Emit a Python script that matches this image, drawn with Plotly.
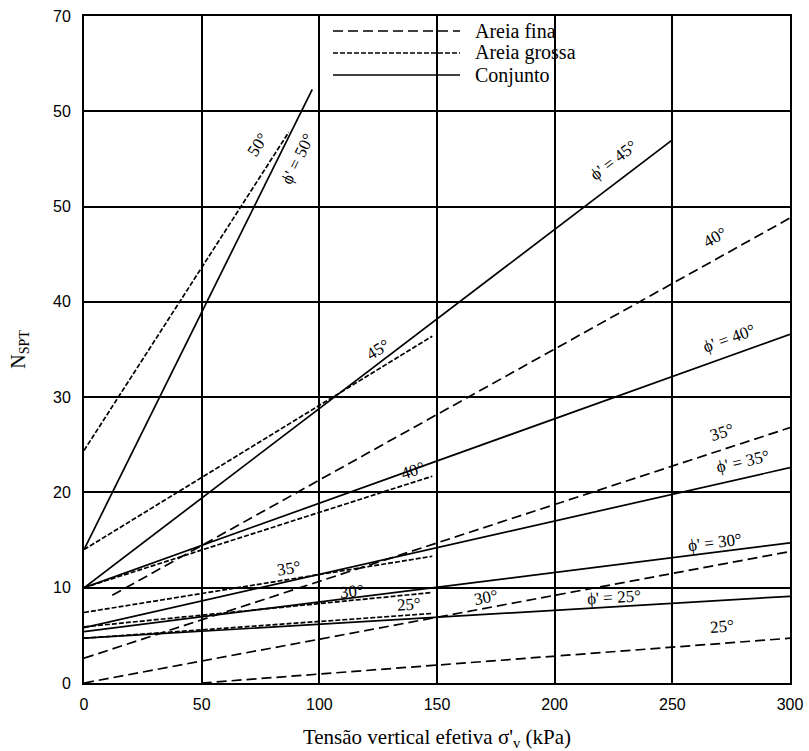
import math
import plotly.graph_objects as go

# ---------------- data ----------------
# Conjunto (solid lines)
conj_phi = [50, 45, 40, 35, 30, 25]
conj_x = [[0, 97], [0, 250], [0, 300], [0, 300], [0, 300], [0, 300]]
conj_y = [[14.0, 62.3], [10.0, 57.0], [10.0, 36.6], [5.8, 22.6], [5.4, 14.7], [4.7, 9.1]]

# Areia fina (dashed lines)
fina_phi = [40, 35, 30, 25]
fina_x = [[12, 300], [0, 300], [0, 300], [50, 300]]
fina_y = [[9.2, 48.8], [2.6, 26.8], [0.0, 13.8], [0.0, 4.7]]

# Areia grossa (fine dashed lines)
grossa_phi = [50, 45, 40, 35, 30, 25]
grossa_x = [[0, 87], [0, 148], [0, 148], [0, 148], [0, 148], [0, 148]]
grossa_y = [[24.4, 57.8], [14.0, 36.4], [10.0, 21.7], [7.4, 13.3], [5.9, 9.5], [4.7, 7.3]]

x_ticks = [0, 50, 100, 150, 200, 250, 300]
y_ticks = [0, 10, 20, 30, 40, 50, 60, 70]
y_ticktext = ["0", "10", "20", "30", "40", "50", "50", "70"]

legend_names = ["Areia fina", "Areia grossa", "Conjunto"]

# ---------------- figure ----------------
W, H = 809, 751
L, R, T, B = 84, 19, 16, 68
pw, ph = W - L - R, H - T - B
sx, sy = pw / 300.0, ph / 70.0

DASH_FINA = "10px,5px"
DASH_GROSSA = "5px,2px"
SERIF = "Liberation Serif, Times New Roman, serif"

fig = go.Figure()


def add_group(xs, ys, phis, dash, name):
    for xx, yy, p in zip(xs, ys, phis):
        fig.add_trace(go.Scatter(
            x=xx, y=yy, mode="lines", name=f"{name} {p}°",
            line=dict(color="black", width=1.7, dash=dash),
            showlegend=False, hoverinfo="skip"))


add_group(conj_x, conj_y, conj_phi, "solid", "Conjunto")
add_group(fina_x, fina_y, fina_phi, DASH_FINA, "Areia fina")
add_group(grossa_x, grossa_y, grossa_phi, DASH_GROSSA, "Areia grossa")


def angle_of(xs, ys):
    dx = (xs[1] - xs[0]) * sx
    dy = (ys[1] - ys[0]) * sy
    return -math.degrees(math.atan2(dy, dx))


# label placements: (text, x, y, series-xs, series-ys)
labels = [
    ("50°", 74, 56.5, grossa_x[0], grossa_y[0]),
    ("ϕ' = 50°", 91, 55.0, conj_x[0], conj_y[0]),
    ("ϕ' = 45°", 225, 54.8, conj_x[1], conj_y[1]),
    ("40°", 268, 46.8, fina_x[0], fina_y[0]),
    ("ϕ' = 40°", 274, 36.2, conj_x[2], conj_y[2]),
    ("35°", 271, 26.3, fina_x[1], fina_y[1]),
    ("ϕ' = 35°", 280, 23.2, conj_x[3], conj_y[3]),
    ("45°", 125, 35.0, grossa_x[1], grossa_y[1]),
    ("40°", 140, 22.3, grossa_x[2], grossa_y[2]),
    ("35°", 87, 12.0, grossa_x[3], grossa_y[3]),
    ("30°", 114, 9.6, grossa_x[4], grossa_y[4]),
    ("25°", 138, 8.2, grossa_x[5], grossa_y[5]),
    ("30°", 171, 9.0, fina_x[2], fina_y[2]),
    ("ϕ' = 25°", 225, 9.0, conj_x[5], conj_y[5]),
    ("ϕ' = 30°", 268, 14.7, conj_x[4], conj_y[4]),
    ("25°", 271, 5.9, fina_x[3], fina_y[3]),
]
for txt, lx, ly, xs, ys in labels:
    fig.add_annotation(x=lx, y=ly, text=txt, showarrow=False,
                       textangle=angle_of(xs, ys),
                       font=dict(family=SERIF, size=17, color="black"))

# legend box (white, covering gridlines), its left edge is the x=100 gridline
fig.add_shape(type="rect", xref="paper", yref="paper",
              x0=(100 * sx + 1.5) / pw, x1=(600 - L) / pw,
              y0=1 - (86 - T) / ph, y1=1.0 - 1.5 / ph,
              fillcolor="white", line=dict(width=0), layer="between")
leg_y = [31, 53, 75]
leg_dash = [DASH_FINA, DASH_GROSSA, "solid"]
for nm, yy, ds in zip(legend_names, leg_y, leg_dash):
    yp = 1 - (yy - T) / ph
    fig.add_shape(type="line", xref="paper", yref="paper",
                  x0=(333 - L) / pw, x1=(460 - L) / pw, y0=yp, y1=yp,
                  line=dict(color="black", width=1.5, dash=ds))
    fig.add_annotation(xref="paper", yref="paper", x=(473 - L) / pw, y=yp,
                       xanchor="left", yanchor="middle", text=nm,
                       showarrow=False,
                       font=dict(family=SERIF, size=20, color="black"))

axis_common = dict(showline=True, linecolor="black", linewidth=2, mirror=True,
                   showgrid=True, gridcolor="black", gridwidth=1.6,
                   zeroline=False, ticks="", automargin=False,
                   tickfont=dict(family="Liberation Sans, Arial, sans-serif",
                                 size=16, color="black"))

fig.update_xaxes(range=[0, 300], tickvals=x_ticks, ticklabelstandoff=6,
                 title=dict(text="Tensão vertical efetiva σ'<sub>v</sub> (kPa)",
                            font=dict(family=SERIF, size=21, color="black"),
                            standoff=22),
                 **axis_common)
fig.update_yaxes(range=[0, 70], tickvals=y_ticks, ticktext=y_ticktext,
                 ticklabelstandoff=8,
                 title=dict(text="N<sub>SPT</sub>",
                            font=dict(family=SERIF, size=20, color="black"),
                            standoff=22),
                 **axis_common)

fig.update_layout(width=W, height=H, margin=dict(l=L, r=R, t=T, b=B),
                  plot_bgcolor="white", paper_bgcolor="white",
                  showlegend=False)

fig.write_html("out.html", config={"displayModeBar": False},
               post_script="document.body.style.margin='0';"
                           "document.body.style.overflow='hidden';")
